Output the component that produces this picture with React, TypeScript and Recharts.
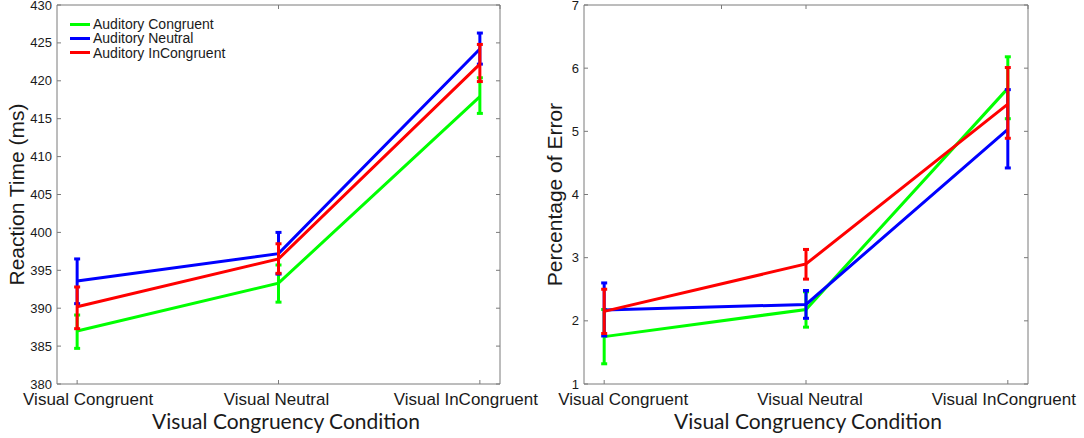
import React from 'react';
import { LineChart, Line, XAxis, YAxis, ErrorBar, Legend } from 'recharts';

// ---------- data ----------
const categories = ['Visual Congruent', 'Visual Neutral', 'Visual InCongruent'];
const categoryX = [1, 2, 3];
const seriesNames = ['Auditory Congruent', 'Auditory Neutral', 'Auditory InCongruent'];
const seriesColors = ['#00ff00', '#0000ff', '#ff0000'];

// Reaction time (ms)
const rtCongruent = [387.0, 393.3, 417.9];
const rtCongruentLo = [384.7, 390.8, 415.7];
const rtCongruentHi = [389.1, 395.7, 420.4];
const rtNeutral = [393.6, 397.2, 424.2];
const rtNeutralLo = [390.6, 394.5, 422.2];
const rtNeutralHi = [396.5, 400.0, 426.3];
const rtIncongruent = [390.2, 396.5, 422.2];
const rtIncongruentLo = [387.3, 394.6, 419.9];
const rtIncongruentHi = [392.8, 398.5, 424.8];
const rtTicks = [380, 385, 390, 395, 400, 405, 410, 415, 420, 425, 430];

// Percentage of error
const errCongruent = [1.75, 2.18, 5.68];
const errCongruentLo = [1.32, 1.9, 5.2];
const errCongruentHi = [2.18, 2.46, 6.18];
const errNeutral = [2.17, 2.26, 5.03];
const errNeutralLo = [1.76, 2.04, 4.42];
const errNeutralHi = [2.6, 2.48, 5.66];
const errIncongruent = [2.15, 2.9, 5.43];
const errIncongruentLo = [1.8, 2.66, 4.89];
const errIncongruentHi = [2.5, 3.13, 6.01];
const pctTicks = [1, 2, 3, 4, 5, 6, 7];

// ---------- helpers ----------
function buildTable(means: number[][], los: number[][], his: number[][]) {
  return categoryX.map((x, i) => {
    const row: any = { x };
    means.forEach((m, s) => {
      row['s' + s] = m[i];
      row['e' + s] = [m[i] - los[s][i], his[s][i] - m[i]];
    });
    return row;
  });
}

const rtData = buildTable(
  [rtCongruent, rtNeutral, rtIncongruent],
  [rtCongruentLo, rtNeutralLo, rtIncongruentLo],
  [rtCongruentHi, rtNeutralHi, rtIncongruentHi]
);
const pctData = buildTable(
  [errCongruent, errNeutral, errIncongruent],
  [errCongruentLo, errNeutralLo, errIncongruentLo],
  [errCongruentHi, errNeutralHi, errIncongruentHi]
);

const AXIS = '#7a7a7a';
const TEXT = '#1a1a1a';
const ARIAL = '"Liberation Sans", Arial, sans-serif';
const TITLE_FONT = 'Lato, "Open Sans", sans-serif';
const W = 1084;
const H = 438;
const TICK_MARGIN = 5;

const YTickLeft = (props: any) => {
  const { x, y, payload } = props;
  const ax = x + TICK_MARGIN;
  return (
    <g>
      <line x1={ax} x2={ax + 4} y1={y} y2={y} stroke={AXIS} strokeWidth={1} />
      <text x={x} y={y} textAnchor="end" dominantBaseline="central" fontSize={13} fill={TEXT} fontFamily={ARIAL}>
        {payload.value}
      </text>
    </g>
  );
};

const YTickRight = (props: any) => {
  const { x, y } = props;
  return <line x1={x - 4} x2={x} y1={y} y2={y} stroke={AXIS} strokeWidth={1} />;
};

const XTickTop = (props: any) => {
  const { x, y } = props;
  return <line x1={x} x2={x} y1={y} y2={y + 4} stroke={AXIS} strokeWidth={1} />;
};

const makeXTickBottom = (labelDx: number[]) => (props: any) => {
  const { x, y, payload } = props;
  const idx = categoryX.indexOf(payload.value);
  return (
    <g>
      <line x1={x} x2={x} y1={y} y2={y - 4} stroke={AXIS} strokeWidth={1} />
      <text x={x + labelDx[idx]} y={y + 21} textAnchor="middle" fontSize={17} fill={TEXT} fontFamily={ARIAL}>
        {categories[idx]}
      </text>
    </g>
  );
};

const LegendBox = () => (
  <div style={{ fontFamily: ARIAL, fontSize: 14, color: TEXT }}>
    {seriesNames.map((n, i) => (
      <div key={n} style={{ display: 'flex', alignItems: 'center', height: 14.3, lineHeight: '14.3px', whiteSpace: 'nowrap' }}>
        <div style={{ width: 20, height: 3, background: seriesColors[i], marginRight: 3 }} />
        <span>{n}</span>
      </div>
    ))}
  </div>
);

type PanelProps = {
  data: any[];
  leftMargin: number;
  rightMargin: number;
  yWidth: number;
  domain: [number, number];
  ticks: number[];
  yLabel: string;
  yLabelX: number;
  titleX: number;
  labelDx: number[];
  legend?: boolean;
};

function Panel({ data, leftMargin, rightMargin, yWidth, domain, ticks, yLabel, yLabelX, titleX, labelDx, legend }: PanelProps) {
  const plotTop = 5;
  const plotBottom = H - 54;
  const XTickBottom = makeXTickBottom(labelDx);
  return (
    <div style={{ position: 'absolute', left: 0, top: 0 }}>
      <LineChart width={W} height={H} data={data} margin={{ top: 4, right: rightMargin, bottom: 0, left: leftMargin }}>
        <XAxis
          dataKey="x"
          type="number"
          domain={[0.9, 3.1]}
          ticks={categoryX}
          allowDataOverflow
          height={54}
          tickSize={0}
          tickMargin={0}
          tick={XTickBottom}
          axisLine={{ stroke: AXIS }}
          interval={0}
          label={{
            content: () => (
              <text x={titleX} y={428.5} textAnchor="middle" fontSize={21} fill={TEXT} fontFamily={TITLE_FONT}>
                Visual Congruency Condition
              </text>
            ),
          }}
        />
        <XAxis
          xAxisId="top"
          orientation="top"
          type="number"
          domain={[0.9, 3.1]}
          ticks={categoryX}
          allowDataOverflow
          height={1}
          tickSize={0}
          tickMargin={0}
          tick={XTickTop}
          axisLine={{ stroke: AXIS }}
          interval={0}
        />
        <YAxis
          type="number"
          domain={domain}
          ticks={ticks}
          allowDataOverflow
          width={yWidth}
          tickSize={0}
          tickMargin={TICK_MARGIN}
          tick={YTickLeft}
          axisLine={{ stroke: AXIS }}
          interval={0}
          label={{
            content: () => (
              <text
                x={yLabelX}
                y={(plotTop + plotBottom) / 2}
                transform={`rotate(-90 ${yLabelX} ${(plotTop + plotBottom) / 2})`}
                textAnchor="middle"
                dominantBaseline="central"
                fontSize={21}
                fill={TEXT}
                fontFamily={ARIAL}
              >
                {yLabel}
              </text>
            ),
          }}
        />
        <YAxis
          yAxisId="right"
          orientation="right"
          type="number"
          domain={domain}
          ticks={ticks}
          allowDataOverflow
          width={1}
          tickSize={0}
          tickMargin={0}
          tick={YTickRight}
          axisLine={{ stroke: AXIS }}
          interval={0}
        />
        {legend && (
          <Legend
            layout="vertical"
            align="center"
            verticalAlign="middle"
            wrapperStyle={{ left: 70, top: 17, width: 'auto' }}
            content={() => <LegendBox />}
          />
        )}
        {seriesNames.map((n, s) => (
          <Line
            key={n}
            name={n}
            dataKey={'s' + s}
            stroke={seriesColors[s]}
            strokeWidth={3}
            dot={false}
            activeDot={false}
            isAnimationActive={false}
          >
            <ErrorBar dataKey={'e' + s} width={3} strokeWidth={3} stroke={seriesColors[s]} direction="y" isAnimationActive={false} />
          </Line>
        ))}
      </LineChart>
    </div>
  );
}

export default function App() {
  return (
    <div style={{ position: 'absolute', left: 0, top: 0, width: W, height: H, background: '#fff', overflow: 'hidden' }}>
      <Panel
        data={rtData}
        leftMargin={0}
        rightMargin={W - 501}
        yWidth={57}
        domain={[380, 430]}
        ticks={rtTicks}
        yLabel="Reaction Time (ms)"
        yLabelX={16}
        titleX={286}
        labelDx={[11, -2, -14]}
        legend
      />
      <Panel
        data={pctData}
        leftMargin={540}
        rightMargin={55}
        yWidth={44}
        domain={[1, 7]}
        ticks={pctTicks}
        yLabel="Percentage of Error"
        yLabelX={554}
        titleX={808}
        labelDx={[19, 4, -4]}
      />
    </div>
  );
}
